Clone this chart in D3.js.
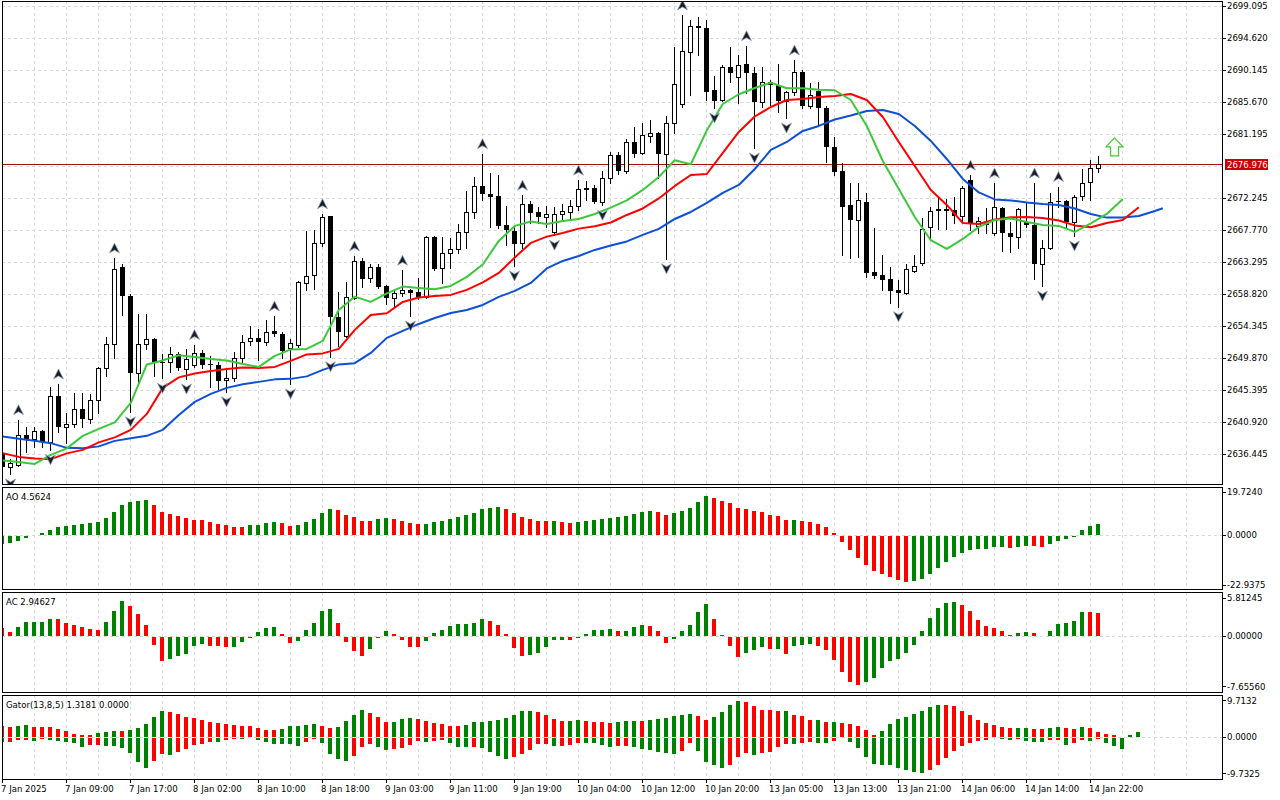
<!DOCTYPE html>
<html>
<head>
<meta charset="utf-8">
<script src="https://cdn.jsdelivr.net/npm/d3@7"></script>
<style>
  body { margin: 0; background: #fff; }
  svg { display: block; }
  text { font-family: "DejaVu Sans Condensed", "DejaVu Sans", sans-serif; font-size: 9.5px; fill: #000; }
</style>
</head>
<body>
<svg id="chart" width="1280" height="800"></svg>
<script>
// ---- price bars (one per hour, bar 0 = 7 Jan 2025 00:00) ----
var open = [2636.4,2634.6,2634.9,2639.1,2638.5,2639.6,2638.1,2644.5,2640.2,2640.6,
  2642.7,2641.3,2644.0,2648.4,2651.8,2662.6,2658.5,2647.7,2651.8,2652.5,
  2649.3,2649.2,2650.4,2648.3,2648.9,2650.5,2649.0,2648.9,2646.7,2647.0,
  2649.8,2652.2,2652.6,2652.1,2653.6,2653.2,2651.2,2651.7,2660.3,2661.4,
  2665.9,2669.7,2655.6,2652.9,2658.2,2663.4,2661.0,2662.6,2659.9,2658.2,
  2658.9,2659.4,2659.1,2658.4,2666.8,2662.4,2664.5,2665.1,2667.5,2670.3,
  2673.9,2672.8,2672.5,2668.4,2667.6,2665.9,2671.4,2670.3,2669.6,2667.5,
  2670.0,2670.3,2671.1,2673.6,2673.6,2671.7,2675.0,2678.2,2676.0,2680.0,
  2678.5,2680.9,2681.3,2678.4,2682.7,2685.4,2692.6,2696.3,2696.0,2687.3,
  2685.9,2690.5,2689.1,2690.9,2689.7,2685.6,2688.4,2688.0,2685.8,2687.0,
  2689.8,2685.1,2687.2,2684.8,2679.3,2676.0,2671.2,2669.1,2671.7,2661.9,
  2661.4,2660.9,2659.4,2658.9,2662.0,2663.1,2668.2,2670.7,2670.6,2670.5,
  2669.7,2674.7,2668.3,2668.7,2667.3,2670.8,2667.3,2666.8,2668.9,2668.4,
  2663.0,2665.2,2671.8,2671.8,2668.9,2672.5,2674.5,2676.4];
var high = [2636.8,2635.7,2641.2,2640.2,2640.2,2639.8,2645.8,2646.2,2642.2,2645.0,
  2645.0,2644.8,2648.6,2652.8,2663.8,2663.0,2658.8,2656.0,2656.0,2652.6,
  2650.4,2651.4,2650.7,2651.1,2651.7,2651.0,2650.1,2649.3,2648.2,2650.7,
  2653.1,2654.3,2653.9,2655.2,2655.7,2653.5,2652.5,2660.6,2667.6,2667.7,
  2670.0,2669.7,2659.1,2660.5,2664.1,2663.8,2663.0,2663.0,2660.1,2659.4,
  2662.1,2659.5,2661.0,2666.9,2666.9,2666.8,2666.6,2668.6,2673.2,2675.2,
  2678.4,2675.7,2675.4,2671.1,2668.2,2672.6,2671.8,2671.0,2671.1,2671.0,
  2671.4,2671.9,2674.7,2674.6,2674.0,2676.0,2678.6,2678.6,2680.5,2682.1,
  2682.7,2683.1,2681.4,2683.7,2693.3,2697.8,2697.1,2697.5,2697.1,2689.3,
  2690.8,2693.3,2692.2,2693.5,2690.5,2690.5,2688.7,2690.9,2687.2,2691.5,
  2690.1,2688.3,2688.4,2685.1,2680.7,2677.1,2674.3,2674.3,2672.9,2668.0,
  2664.2,2662.6,2660.7,2663.0,2664.2,2669.4,2671.0,2672.2,2672.0,2672.4,
  2673.9,2675.4,2669.6,2670.8,2674.3,2671.0,2668.9,2670.8,2671.5,2674.3,
  2666.3,2672.9,2673.8,2671.9,2672.6,2676.3,2677.5,2678.1];
var low = [2634.3,2633.6,2634.7,2636.7,2637.4,2637.4,2637.0,2639.5,2638.0,2640.2,
  2640.2,2640.8,2642.2,2647.3,2649.8,2655.9,2642.3,2646.4,2651.1,2647.3,
  2647.0,2647.9,2648.2,2646.9,2648.6,2648.4,2645.8,2645.5,2645.1,2646.6,
  2649.3,2651.7,2649.6,2651.7,2652.9,2649.8,2646.2,2651.4,2659.4,2659.5,
  2665.5,2650.0,2651.5,2652.8,2658.1,2659.8,2660.5,2659.6,2657.4,2656.8,
  2658.5,2655.7,2658.1,2658.2,2662.1,2660.3,2662.4,2664.5,2665.2,2669.4,
  2671.9,2668.2,2668.0,2665.6,2662.7,2665.2,2668.7,2668.7,2668.2,2667.0,
  2669.1,2669.3,2670.5,2671.9,2671.5,2671.2,2674.3,2675.6,2675.7,2677.9,
  2678.4,2680.0,2675.0,2663.7,2681.3,2684.9,2686.6,2692.2,2685.9,2684.8,
  2685.8,2688.4,2685.5,2686.9,2679.2,2684.9,2685.2,2684.2,2683.4,2686.6,
  2684.8,2684.8,2682.4,2677.2,2675.4,2664.2,2663.8,2664.0,2661.2,2661.0,
  2659.4,2657.5,2657.0,2658.8,2661.9,2662.8,2666.3,2667.9,2667.9,2668.7,
  2668.9,2667.7,2667.3,2667.3,2667.0,2664.8,2664.7,2665.2,2668.2,2660.9,
  2659.9,2665.1,2671.0,2668.0,2666.9,2671.9,2671.9,2675.8];
var close = [2634.6,2635.1,2639.1,2638.5,2639.6,2638.1,2644.5,2640.2,2640.6,2642.7,
  2641.3,2644.0,2648.4,2651.8,2662.3,2658.5,2647.7,2651.8,2652.5,2649.1,
  2649.1,2650.4,2648.4,2649.7,2650.5,2648.9,2648.9,2646.6,2647.0,2649.8,
  2652.1,2652.6,2652.1,2653.5,2653.2,2650.8,2651.9,2660.5,2661.3,2665.9,
  2669.6,2655.6,2653.5,2658.4,2663.4,2660.9,2662.6,2659.8,2658.2,2658.9,
  2659.4,2658.9,2658.4,2666.8,2662.3,2664.5,2665.1,2667.5,2670.3,2673.9,
  2672.8,2672.4,2668.3,2667.7,2665.8,2671.4,2670.1,2669.6,2670.0,2670.0,
  2670.4,2671.1,2673.5,2673.3,2671.7,2675.0,2678.2,2676.0,2680.0,2678.4,
  2681.0,2681.3,2678.4,2682.7,2688.2,2692.8,2696.3,2696.0,2687.0,2685.8,
  2690.5,2689.7,2690.8,2689.7,2685.6,2688.4,2688.0,2685.8,2687.0,2689.8,
  2685.1,2686.6,2684.8,2679.3,2675.8,2671.0,2669.1,2671.9,2661.7,2661.3,
  2660.8,2659.2,2658.9,2662.3,2662.7,2667.9,2670.4,2670.4,2670.4,2669.7,
  2673.6,2668.7,2669.0,2668.4,2671.0,2667.3,2666.8,2670.7,2668.4,2663.0,
  2665.2,2671.7,2671.6,2668.9,2672.4,2674.3,2676.4,2676.976];
var lastPrice = 2676.976;

// ---- Alligator lines, read every second bar ----
var jaw = [2638.84,2638.52,2638.24,2637.92,2637.26,2637.22,2637.47,2638.24,2638.59,2638.94,
  2639.78,2641.87,2643.69,2644.81,2645.65,2646.16,2646.49,2646.84,2646.91,2647.26,
  2648.16,2648.93,2649.1,2650.54,2652.64,2653.62,2654.59,2655.43,2656.13,2656.55,
  2657.25,2658.37,2659.21,2660.33,2662.35,2663.4,2664.1,2664.94,2665.57,2666.13,
  2667.04,2667.88,2669.27,2670.25,2671.51,2672.91,2674.03,2676.26,2678.92,2680.04,
  2681.58,2682.28,2683.18,2683.74,2684.37,2684.51,2683.95,2682.28,2680.18,2677.66,
  2674.87,2672.98,2672.0,2671.86,2671.58,2671.37,2671.23,2670.74,2669.97,2669.46,
  2669.48,2669.69,2670.39,2670.77];
var teeth = [2636.52,2636.0,2635.79,2635.68,2636.49,2636.98,2638.03,2638.73,2639.78,2642.01,
  2645.65,2647.12,2647.67,2648.02,2648.3,2648.49,2648.44,2648.58,2649.42,2650.33,
  2650.47,2651.1,2653.76,2655.85,2656.09,2657.67,2658.3,2658.51,2658.65,2659.35,
  2660.4,2661.72,2663.89,2665.92,2666.8,2667.32,2667.92,2668.25,2668.78,2669.83,
  2670.74,2672.14,2673.89,2675.42,2675.56,2678.5,2681.44,2683.6,2684.93,2685.91,
  2686.05,2686.33,2686.47,2686.75,2685.91,2683.53,2680.04,2676.68,2673.33,2671.23,
  2668.71,2668.57,2669.2,2669.51,2669.55,2669.41,2669.06,2668.37,2668.11,2668.71,
  2669.13,2670.91];
var lips = [2635.48,2635.3,2635.02,2636.28,2637.19,2638.94,2639.92,2640.82,2643.55,2648.93,
  2649.49,2650.22,2649.98,2649.7,2649.49,2649.0,2648.58,2650.12,2651.03,2651.1,
  2652.22,2656.55,2658.41,2657.67,2658.86,2659.81,2659.63,2659.45,2659.91,2661.17,
  2662.91,2666.2,2668.3,2668.92,2668.57,2668.99,2669.27,2669.97,2670.85,2671.86,
  2673.33,2675.15,2677.48,2676.92,2681.67,2685.35,2686.71,2687.59,2688.33,2687.55,
  2687.55,2687.35,2687.27,2685.91,2682.28,2677.38,2673.47,2669.55,2666.3,2665.08,
  2666.48,2668.16,2669.13,2669.34,2668.85,2668.43,2668.3,2667.46,2668.64,2669.97,
  2672.07];
var jawBars = d3.range(0, 145, 2).concat([145]);
var teethBars = d3.range(0, 143, 2);
var lipsBars = d3.range(0, 141, 2);

// ---- fractal bars and signal ----
var fractalUp = [2,7,14,24,34,40,44,50,60,65,72,85,93,99,121,124,129,132];
var fractalDown = [1,6,16,20,23,28,36,41,51,64,69,75,83,89,94,98,112,130,134];
var buySignal = { bar: 139, price: 2680.6 };

// ---- oscillators ----
var ao = [-3.5,-3.4,-2.3,-0.8,-0.2,1.0,2.3,3.8,4.3,4.7,
  4.9,5.5,6.0,8.0,10.7,13.8,15.1,15.4,16.1,13.8,
  10.6,9.6,8.7,7.6,6.9,6.85,5.9,5.2,4.6,3.7,
  3.65,4.4,4.7,5.6,6.0,5.5,4.3,4.7,5.8,7.3,
  10.1,11.9,11.5,9.3,8.4,6.4,6.35,7.3,7.8,7.3,
  6.4,5.5,5.0,5.1,6.0,6.4,7.3,8.3,9.2,10.1,
  11.9,12.4,12.8,11.9,10.1,8.3,7.3,6.4,6.35,6.45,
  6.0,5.5,6.0,6.4,6.9,7.3,7.8,8.3,8.7,9.6,
  10.6,11.0,10.6,9.2,10.1,11.0,12.4,15.1,17.9,17.0,
  15.6,14.7,12.4,11.9,11.0,10.6,9.2,8.7,6.9,6.95,
  6.4,6.0,5.0,3.7,0.9,-2.6,-6.6,-9.9,-13.3,-16.1,
  -17.4,-18.7,-20.0,-20.9,-20.85,-19.6,-17.3,-14.5,-11.8,-9.5,
  -7.6,-6.3,-5.8,-5.75,-4.9,-4.85,-5.35,-4.9,-4.4,-4.45,
  -4.9,-3.5,-2.1,-1.2,-0.3,2.3,4.1,5.0];
var ac = [1.27,0.6,1.37,2.1,2.12,2.14,2.6,2.58,1.93,1.63,
  1.37,1.07,0.92,2.14,3.82,5.34,4.58,3.36,1.68,-1.22,
  -3.66,-3.31,-2.9,-2.54,-1.37,-1.02,-1.37,-1.39,-1.53,-1.5,
  -0.76,-0.1,0.61,1.27,1.37,0.31,-0.92,-0.56,0.92,1.98,
  3.82,4.12,1.98,-0.76,-2.14,-2.9,-1.78,-0.1,0.76,0.31,
  -0.46,-1.53,-1.55,-0.61,0.46,0.92,1.53,1.83,1.85,1.98,
  2.6,2.29,1.68,0.31,-1.68,-2.9,-2.75,-2.44,-1.53,-0.46,
  -0.45,-0.47,-0.1,0.31,0.92,0.94,1.07,0.76,0.78,1.37,
  1.68,1.53,0.76,-0.92,-0.31,0.76,1.68,3.66,4.89,2.6,
  0.15,-1.37,-3.05,-2.44,-1.98,-1.53,-1.83,-1.8,-2.6,-1.37,
  -1.22,-1.07,-1.37,-1.98,-3.51,-5.34,-6.87,-7.33,-6.87,-6.26,
  -4.73,-3.66,-3.36,-2.44,-1.22,0.76,2.75,4.27,5.04,5.19,
  4.73,3.82,2.44,1.53,1.22,0.76,0.15,0.46,0.61,0.46,
  -0.02,0.76,1.83,1.98,2.29,3.66,3.64,3.51];
var gatorUp = [2.93,2.49,2.76,3.02,2.67,2.49,2.47,2.04,1.42,0.62,
  0.36,0.34,0.89,1.16,1.42,1.4,1.69,2.22,3.29,5.16,
  6.76,6.49,5.96,5.16,4.89,4.44,3.82,3.56,3.29,3.02,
  2.84,2.76,2.22,1.87,1.69,2.04,2.76,2.78,3.02,3.29,
  2.76,2.22,2.49,4.09,5.69,7.02,6.22,5.16,3.82,3.84,
  4.71,4.89,4.62,4.09,3.56,3.29,2.76,2.74,3.02,3.82,
  4.0,4.09,4.36,4.89,5.69,6.76,6.78,6.49,5.69,4.62,
  4.09,4.11,4.36,4.09,3.82,3.8,3.56,3.82,4.09,4.11,
  4.09,4.36,4.62,4.89,5.42,5.69,5.96,5.42,4.36,5.16,
  6.49,8.36,9.42,9.16,8.09,7.02,7.0,6.76,6.78,5.69,
  5.42,4.44,4.46,3.91,3.93,3.64,3.38,2.84,1.78,0.44,
  1.51,3.38,4.71,5.24,6.04,6.84,7.91,8.44,8.42,8.18,
  6.84,5.78,4.44,3.64,3.11,2.58,2.31,2.33,2.35,2.04,
  2.02,2.31,2.58,2.31,2.04,2.58,2.31,1.24,0.71,0.44,
  0.05,0.44,1.32];
var gatorDown = [-1.24,-1.16,-0.62,-0.6,-0.89,-0.27,-0.62,-0.89,-1.24,-1.51,
  -2.49,-2.04,-2.02,-2.22,-2.31,-2.84,-4.18,-6.49,-8.09,-6.22,
  -4.36,-4.71,-3.82,-2.93,-2.04,-1.69,-1.07,-1.16,-0.62,-0.27,
  -0.44,-0.1,-0.62,-1.16,-1.69,-1.71,-1.73,-2.22,-1.07,-0.36,
  -1.42,-4.44,-5.6,-6.22,-4.89,-2.58,-1.78,-2.49,-3.38,-3.11,
  -2.76,-2.04,-0.89,-1.16,-0.89,-0.53,-1.42,-2.49,-2.51,-2.49,
  -2.76,-3.82,-4.89,-5.69,-5.16,-4.36,-3.29,-1.78,-1.76,-2.22,
  -2.2,-1.96,-1.42,-1.44,-1.46,-1.96,-2.49,-2.22,-2.2,-2.49,
  -3.02,-3.29,-3.82,-4.09,-4.36,-3.56,-1.42,-3.56,-6.49,-7.29,
  -8.09,-7.29,-5.16,-4.09,-4.62,-4.09,-3.82,-2.49,-1.69,-1.71,
  -1.42,-1.1,-1.33,-1.35,-0.8,-0.18,-1.07,-2.67,-5.07,-6.93,
  -7.2,-7.22,-8.0,-8.53,-9.07,-9.33,-8.53,-7.2,-5.33,-3.47,
  -2.13,-1.33,-0.8,-0.5,-0.2,-0.27,-0.53,-0.3,-1.0,-1.07,
  -1.09,-0.53,-0.51,-1.87,-1.33,-0.53,-0.8,-0.27,-1.33,-2.13,
  -3.02,-0.05,0];

// ---- axis labels ----
var timeLabels = ["7 Jan 2025","7 Jan 09:00","7 Jan 17:00","8 Jan 02:00","8 Jan 10:00","8 Jan 18:00",
  "9 Jan 03:00","9 Jan 11:00","9 Jan 19:00","10 Jan 04:00","10 Jan 12:00","10 Jan 20:00",
  "13 Jan 05:00","13 Jan 13:00","13 Jan 21:00","14 Jan 06:00","14 Jan 14:00","14 Jan 22:00"];
var timeLabelBars = d3.range(0, 137, 8);
var priceTicks = d3.range(15).map(function(i) { return 2636.445 + 4.475 * i; });
var aoTicks = [19.724, 0, -22.9375], aoTickText = ["19.7240", "0.0000", "-22.9375"];
var acTicks = [5.81245, 0, -7.6556], acTickText = ["5.81245", "0.00000", "-7.65560"];
var gatorTicks = [9.7132, 0, -9.7325], gatorTickText = ["9.7132", "0.0000", "-9.7325"];

// ---- layout ----
var svg = d3.select("#chart");
var left = 2, right = 1222;
var pMain = { top: 1, bottom: 484 }, pAO = { top: 487, bottom: 589 },
    pAC = { top: 592, bottom: 692 }, pGator = { top: 695, bottom: 779 };

// colours
var upGreen = "#008000", downRed = "#ff0000", gridColor = "#d8d8d8";
var jawColor = "#0d4fd6", teethColor = "#ff0000", lipsColor = "#3cc83c";

var x = d3.scaleLinear().domain([0, 145]).range([2.3, 1162.3]);
function px(i) { return Math.round(x(i)); }
var yP = d3.scaleLinear().domain([2636.445, 2699.095]).range([453.7, 5.7]);
var yAO = d3.scaleLinear().domain([-22.9375, 19.724]).range([585, 492]);
var yAC = d3.scaleLinear().domain([-7.6556, 5.81245]).range([686.2, 597.7]);
var yG = d3.scaleLinear().domain([-9.7325, 9.7132]).range([773.2, 700.3]);

var defs = svg.append("defs");
function panelGroup(id, p) {
  defs.append("clipPath").attr("id", "clip-" + id)
      .append("rect").attr("x", left + 1).attr("y", p.top + 1)
      .attr("width", right - left - 1).attr("height", p.bottom - p.top - 1);
  return svg.append("g").attr("clip-path", "url(#clip-" + id + ")");
}
var gMain = panelGroup("main", pMain);
var gAO = panelGroup("ao", pAO);
var gAC = panelGroup("ac", pAC);
var gGator = panelGroup("gator", pGator);

// vertical grid, every 4 bars
var gridBars = d3.range(4, 150, 4);
[[gMain, pMain], [gAO, pAO], [gAC, pAC], [gGator, pGator]].forEach(function(pair) {
  pair[0].selectAll("line.vgrid").data(gridBars).join("line")
    .attr("class", "vgrid")
    .attr("x1", function(d) { return px(d) + 0.5; })
    .attr("x2", function(d) { return px(d) + 0.5; })
    .attr("y1", pair[1].top).attr("y2", pair[1].bottom)
    .attr("stroke", gridColor).attr("stroke-dasharray", "3,3");
});

// horizontal grid main
gMain.selectAll("line.hgrid").data(priceTicks).join("line")
  .attr("class", "hgrid")
  .attr("x1", left).attr("x2", right)
  .attr("y1", function(d) { return Math.round(yP(d)) + 0.5; })
  .attr("y2", function(d) { return Math.round(yP(d)) + 0.5; })
  .attr("stroke", gridColor).attr("stroke-dasharray", "3,3");

// zero lines for oscillators
[[gAO, yAO], [gAC, yAC], [gGator, yG]].forEach(function(pair) {
  pair[0].append("line")
    .attr("x1", left).attr("x2", right)
    .attr("y1", Math.round(pair[1](0)) + 0.5).attr("y2", Math.round(pair[1](0)) + 0.5)
    .attr("stroke", gridColor).attr("stroke-dasharray", "3,3");
});

// current price line
var yLast = Math.round(yP(lastPrice)) + 0.5;
gMain.append("line").attr("x1", left).attr("x2", right)
  .attr("y1", yLast).attr("y2", yLast)
  .attr("stroke", "#a01010").attr("stroke-width", 1);

// candles
var bars = d3.range(open.length).map(function(i) {
  return { i: i, o: open[i], h: high[i], l: low[i], c: close[i] };
});
gMain.selectAll("line.wick").data(bars).join("line")
  .attr("class", "wick")
  .attr("x1", function(d) { return px(d.i) + 0.5; })
  .attr("x2", function(d) { return px(d.i) + 0.5; })
  .attr("y1", function(d) { return Math.round(yP(d.h)); })
  .attr("y2", function(d) { return Math.round(yP(d.l)) + 1; })
  .attr("stroke", "#000");
gMain.selectAll("rect.body").data(bars).join("rect")
  .attr("class", "body")
  .each(function(d) {
    var el = d3.select(this);
    var yo = Math.round(yP(d.o)), yc = Math.round(yP(d.c));
    if (d.c > d.o) {
      el.attr("x", px(d.i) - 1.5).attr("width", 4)
        .attr("y", yc + 0.5).attr("height", Math.max(yo - yc, 1))
        .attr("fill", "#fff").attr("stroke", "#000");
    } else {
      el.attr("x", px(d.i) - 2).attr("width", 5)
        .attr("y", yo).attr("height", Math.max(yc - yo, 1))
        .attr("fill", "#000");
    }
  });

// alligator
function drawLine(vals, barIdx, color) {
  var pts = vals.map(function(v, k) { return [x(barIdx[k]) + 0.5, yP(v)]; });
  gMain.append("path").attr("d", d3.line()(pts))
    .attr("fill", "none").attr("stroke", color).attr("stroke-width", 2)
    .attr("stroke-linejoin", "round");
}
drawLine(jaw, jawBars, jawColor);
drawLine(teeth, teethBars, teethColor);
drawLine(lips, lipsBars, lipsColor);

// fractals
var upGlyph = "M0,-5 L5,5 L0,2 L-5,5 Z";
var downGlyph = "M0,5 L5,-5 L0,-2 L-5,-5 Z";
gMain.selectAll("path.fup").data(fractalUp).join("path")
  .attr("class", "fup").attr("d", upGlyph)
  .attr("transform", function(b) { return "translate(" + (px(b) + 0.5) + "," + (yP(high[b]) - 10) + ")"; })
  .attr("fill", "#1c1c22").attr("stroke", "#8fa6c4").attr("stroke-width", 0.7);
gMain.selectAll("path.fdn").data(fractalDown).join("path")
  .attr("class", "fdn").attr("d", downGlyph)
  .attr("transform", function(b) { return "translate(" + (px(b) + 0.5) + "," + (yP(low[b]) + 10) + ")"; })
  .attr("fill", "#1c1c22").attr("stroke", "#8fa6c4").attr("stroke-width", 0.7);

// buy signal arrow
gMain.append("path")
  .attr("d", "M0,0 L8.5,9 L4,9 L4,18 L-4,18 L-4,9 L-8.5,9 Z")
  .attr("transform", "translate(" + (px(buySignal.bar) + 0.5) + "," + yP(buySignal.price) + ")")
  .attr("fill", "#fbfff0").attr("stroke", "#3ccc3c").attr("stroke-width", 1.2);

// histograms
function trendColors(vals, firstUp, useAbs) {
  var up = firstUp;
  return vals.map(function(v, i) {
    if (i > 0) {
      var a = useAbs ? Math.abs(v) : v, b = useAbs ? Math.abs(vals[i - 1]) : vals[i - 1];
      if (a > b) up = true; else if (a < b) up = false;
    }
    return up ? upGreen : downRed;
  });
}
function histogram(g, vals, y, colors) {
  var y0 = Math.round(y(0));
  g.append("g").selectAll("rect").data(vals).join("rect")
    .attr("x", function(d, i) { return px(i) - 2; })
    .attr("width", 4)
    .attr("y", function(d) { return d >= 0 ? Math.round(y(d)) : y0 + 1; })
    .attr("height", function(d) { return Math.abs(Math.round(y(d)) - y0); })
    .attr("fill", function(d, i) { return colors[i]; });
}
histogram(gAO, ao, yAO, trendColors(ao, true, false));
histogram(gAC, ac, yAC, trendColors(ac, false, false));
histogram(gGator, gatorUp, yG, trendColors(gatorUp, false, true));
histogram(gGator, gatorDown, yG, trendColors(gatorDown, true, true));

// panel frames
[pMain, pAO, pAC, pGator].forEach(function(p) {
  svg.append("rect").attr("x", left + 0.5).attr("y", p.top + 0.5)
    .attr("width", right - left).attr("height", p.bottom - p.top)
    .attr("fill", "none").attr("stroke", "#000");
});

// right price axis
var axisG = svg.append("g");
var shownPrices = priceTicks.filter(function(t) { return Math.abs(yP(t) - yP(lastPrice)) > 9; });
axisG.selectAll("line.pt").data(shownPrices).join("line")
  .attr("x1", right).attr("x2", right + 4)
  .attr("y1", function(d) { return Math.round(yP(d)) + 0.5; })
  .attr("y2", function(d) { return Math.round(yP(d)) + 0.5; })
  .attr("stroke", "#000");
axisG.selectAll("text.pt").data(shownPrices).join("text")
  .attr("x", right + 5).attr("y", function(d) { return yP(d); })
  .attr("dy", "0.35em")
  .text(function(d) { return d.toFixed(3); });

axisG.append("rect").attr("x", right + 3).attr("y", yLast - 5.5)
  .attr("width", 43).attr("height", 11).attr("fill", "#cc0000");
axisG.append("text").attr("x", right + 5).attr("y", yLast)
  .attr("dy", "0.35em").style("fill", "#fff").text(lastPrice.toFixed(3));

function oscAxis(ticks, labels, y) {
  ticks.forEach(function(t, k) {
    var yy = Math.round(y(t)) + 0.5;
    axisG.append("line").attr("x1", right).attr("x2", right + 4)
      .attr("y1", yy).attr("y2", yy).attr("stroke", "#000");
    axisG.append("text").attr("x", right + 5).attr("y", y(t)).attr("dy", "0.35em").text(labels[k]);
  });
}
oscAxis(aoTicks, aoTickText, yAO);
oscAxis(acTicks, acTickText, yAC);
oscAxis(gatorTicks, gatorTickText, yG);

// panel titles
svg.append("text").attr("x", 6).attr("y", 500).text("AO 4.5624");
svg.append("text").attr("x", 6).attr("y", 605).text("AC 2.94627");
svg.append("text").attr("x", 6).attr("y", 708).text("Gator(13,8,5) 1.3181 0.0000");

// time axis
axisG.selectAll("line.tt").data(timeLabelBars).join("line")
  .attr("x1", function(d) { return px(d) + 0.5; })
  .attr("x2", function(d) { return px(d) + 0.5; })
  .attr("y1", pGator.bottom).attr("y2", pGator.bottom + 4)
  .attr("stroke", "#000");
axisG.selectAll("text.tt").data(timeLabelBars).join("text")
  .attr("x", function(d) { return px(d) - 1; })
  .attr("y", 792)
  .text(function(d, k) { return timeLabels[k]; });
</script>
</body>
</html>
